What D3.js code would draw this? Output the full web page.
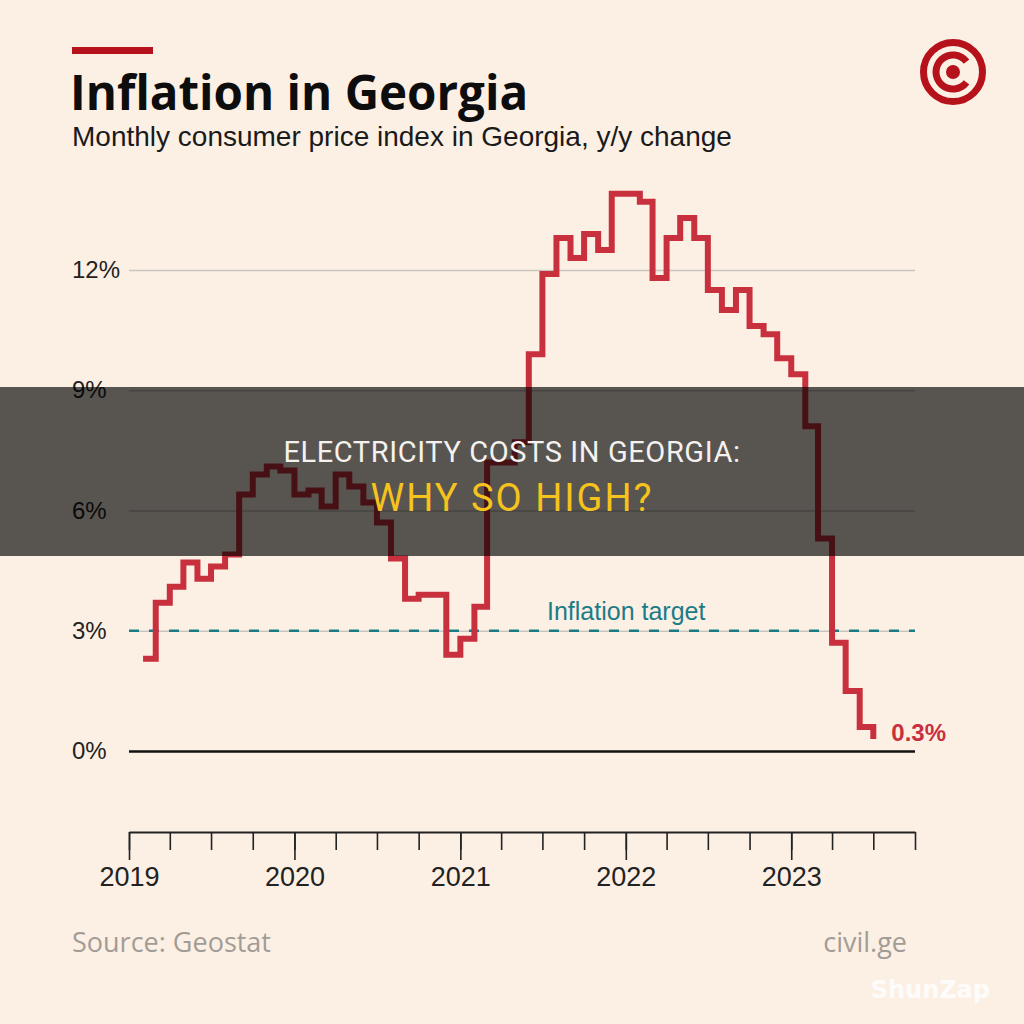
<!DOCTYPE html>
<html>
<head>
<meta charset="utf-8">
<script src="https://cdn.jsdelivr.net/npm/d3@7"></script>
<style>
  html, body { margin: 0; padding: 0; background: #fcf0e5; }
  svg { display: block; }
</style>
</head>
<body>
<div id="chart"></div>
<script>
/* global d3 */

// Monthly y/y CPI change, Georgia
var months = [
  "2019-02", "2019-03", "2019-04", "2019-05", "2019-06", "2019-07", "2019-08",
  "2019-09", "2019-10", "2019-11", "2019-12",
  "2020-01", "2020-02", "2020-03", "2020-04", "2020-05", "2020-06", "2020-07",
  "2020-08", "2020-09", "2020-10", "2020-11", "2020-12",
  "2021-01", "2021-02", "2021-03", "2021-04", "2021-05", "2021-06", "2021-07",
  "2021-08", "2021-09", "2021-10", "2021-11", "2021-12",
  "2022-01", "2022-02", "2022-03", "2022-04", "2022-05", "2022-06", "2022-07",
  "2022-08", "2022-09", "2022-10", "2022-11", "2022-12",
  "2023-01", "2023-02", "2023-03", "2023-04", "2023-05", "2023-06", "2023-07"
];
var cpiValues = [
  2.3, 3.7, 4.1, 4.7, 4.3, 4.6, 4.9, 6.4, 6.9, 7.1, 7.0,
  6.4, 6.5, 6.1, 6.9, 6.6, 6.2, 5.7, 4.8, 3.8, 3.9, 3.9, 2.4,
  2.8, 3.6, 7.2, 7.2, 7.7, 9.9, 11.9, 12.8, 12.3, 12.9, 12.5, 13.9,
  13.9, 13.7, 11.8, 12.8, 13.3, 12.8, 11.5, 11.0, 11.5, 10.6, 10.4, 9.8,
  9.4, 8.1, 5.3, 2.7, 1.5, 0.6, 0.3
];
var yTicks = [0, 3, 6, 9, 12];
var yearTicks = ["2019", "2020", "2021", "2022", "2023"];
var xDomain = ["2019-01", "2023-10"];
var inflationTarget = 3;

var width = 1024,
  height = 1024,
  plot = { left: 129, right: 915, top: 270, zero: 751, axis: 832 },
  red = "#c9303e",
  brand = "#b5121b";

var parseMonth = d3.timeParse("%Y-%m");
var data = months.map(function(m, i) {
  return { date: parseMonth(m), value: cpiValues[i] };
});

var xScale = d3.scaleTime()
  .domain(xDomain.map(parseMonth))
  .range([plot.left, plot.right]);
var yScale = d3.scaleLinear()
  .domain([0, 12])
  .range([plot.zero, plot.top]);

var svg = d3.select("#chart").append("svg")
  .attr("width", width)
  .attr("height", height);

svg.append("rect")
  .attr("width", width)
  .attr("height", height)
  .attr("fill", "#fcf0e5");

// header
svg.append("rect")
  .attr("x", 72).attr("y", 47)
  .attr("width", 81).attr("height", 7)
  .attr("fill", brand);

svg.append("text")
  .attr("x", 70).attr("y", 110)
  .attr("font-family", "'Open Sans', sans-serif")
  .attr("font-weight", 700)
  .attr("font-size", 47.5)
  .attr("fill", "#0d0d0d")
  .text("Inflation in Georgia");

svg.append("text")
  .attr("x", 72).attr("y", 146)
  .attr("font-family", "'Liberation Sans', Arial, sans-serif")
  .attr("font-size", 28)
  .attr("fill", "#1a1a1a")
  .text("Monthly consumer price index in Georgia, y/y change");

// logo
var logo = svg.append("g").attr("transform", "translate(953,72)");
logo.append("circle")
  .attr("r", 29.5)
  .attr("fill", "none")
  .attr("stroke", brand)
  .attr("stroke-width", 7);
logo.append("path")
  .attr("d", d3.arc()
    .innerRadius(13.5)
    .outerRadius(20.5)
    .startAngle(Math.PI / 2 + 0.65)
    .endAngle(Math.PI * 2.5 - 0.65)())
  .attr("fill", brand);
logo.append("circle")
  .attr("r", 7)
  .attr("fill", brand);

// y grid + labels
var yAxis = svg.append("g")
  .attr("class", "y axis")
  .attr("transform", "translate(" + plot.left + ",0)")
  .call(d3.axisLeft(yScale)
    .tickValues(yTicks)
    .tickSize(-(plot.right - plot.left))
    .tickFormat(function(d) { return d + "%"; }));

yAxis.select(".domain").remove();
yAxis.selectAll(".tick line")
  .attr("stroke", function(d) { return d === 0 ? "#111" : "#c9c4bd"; })
  .attr("stroke-width", function(d) { return d === 0 ? 2.5 : 1.6; });
yAxis.selectAll(".tick text")
  .attr("x", 72 - plot.left)
  .attr("text-anchor", "start")
  .attr("font-family", "'Liberation Sans', Arial, sans-serif")
  .attr("font-size", 24)
  .attr("fill", "#222");

// inflation target
svg.append("line")
  .attr("x1", plot.left).attr("x2", plot.right)
  .attr("y1", yScale(inflationTarget)).attr("y2", yScale(inflationTarget))
  .attr("stroke", "#1c7c86")
  .attr("stroke-width", 2.5)
  .attr("stroke-dasharray", "10,10");

svg.append("text")
  .attr("x", 547)
  .attr("y", yScale(inflationTarget) - 11)
  .attr("font-family", "'Liberation Sans', Arial, sans-serif")
  .attr("font-size", 25)
  .attr("fill", "#1c7c86")
  .text("Inflation target");

// the step line
var line = d3.line()
  .curve(d3.curveStepAfter)
  .x(function(d) { return xScale(d.date); })
  .y(function(d) { return yScale(d.value); });

svg.append("path")
  .datum(data)
  .attr("d", line)
  .attr("fill", "none")
  .attr("stroke", red)
  .attr("stroke-width", 6)
  .attr("stroke-linejoin", "miter");

var last = data[data.length - 1];
svg.append("text")
  .attr("x", xScale(last.date) + 18)
  .attr("y", yScale(last.value) + 2)
  .attr("font-family", "'Liberation Sans', Arial, sans-serif")
  .attr("font-weight", 700)
  .attr("font-size", 24)
  .attr("fill", red)
  .text(last.value + "%");

// x axis: quarterly minor ticks, yearly labelled ticks
var xMinor = svg.append("g")
  .attr("transform", "translate(0," + plot.axis + ")")
  .call(d3.axisBottom(xScale)
    .ticks(d3.timeMonth.every(3))
    .tickSize(18)
    .tickSizeOuter(0)
    .tickFormat(""));
xMinor.select(".domain").attr("stroke", "#222").attr("stroke-width", 2);
xMinor.selectAll(".tick line").attr("stroke", "#222").attr("stroke-width", 1.6);

var xMajor = svg.append("g")
  .attr("transform", "translate(0," + plot.axis + ")")
  .call(d3.axisBottom(xScale)
    .tickValues(yearTicks.map(function(y) { return d3.timeParse("%Y")(y); }))
    .tickSize(28)
    .tickPadding(7)
    .tickFormat(d3.timeFormat("%Y")));
xMajor.select(".domain").remove();
xMajor.selectAll(".tick line").attr("stroke", "#222").attr("stroke-width", 1.6);
xMajor.selectAll(".tick text")
  .attr("font-family", "'Liberation Sans', Arial, sans-serif")
  .attr("font-size", 27)
  .attr("fill", "#222");

// footer
svg.append("text")
  .attr("x", 72).attr("y", 952)
  .attr("font-family", "'Open Sans', sans-serif")
  .attr("font-size", 27)
  .attr("fill", "#a29c96")
  .text("Source: Geostat");

svg.append("text")
  .attr("x", 907).attr("y", 952)
  .attr("text-anchor", "end")
  .attr("font-family", "'Open Sans', sans-serif")
  .attr("font-size", 27)
  .attr("fill", "#a29c96")
  .text("civil.ge");

// banner overlay
svg.append("rect")
  .attr("x", 0).attr("y", 387)
  .attr("width", width).attr("height", 169)
  .attr("fill", "rgba(0,0,0,0.65)");

svg.append("text")
  .attr("x", width / 2).attr("y", 462)
  .attr("text-anchor", "middle")
  .attr("font-family", "Roboto, sans-serif")
  .attr("font-size", 29)
  .attr("letter-spacing", 0.6)
  .attr("fill", "#f4f1ee")
  .text("ELECTRICITY COSTS IN GEORGIA:");

svg.append("text")
  .attr("x", width / 2).attr("y", 511)
  .attr("text-anchor", "middle")
  .attr("font-family", "Roboto, sans-serif")
  .attr("font-size", 38)
  .attr("letter-spacing", 2)
  .attr("fill", "#f6c21c")
  .text("WHY SO HIGH?");

// watermark
svg.append("text")
  .attr("x", 990).attr("y", 998)
  .attr("text-anchor", "end")
  .attr("font-family", "'DejaVu Sans', sans-serif")
  .attr("font-weight", 700)
  .attr("font-size", 24)
  .attr("fill", "rgba(255,255,255,0.85)")
  .text("ShunZap");
</script>
</body>
</html>
